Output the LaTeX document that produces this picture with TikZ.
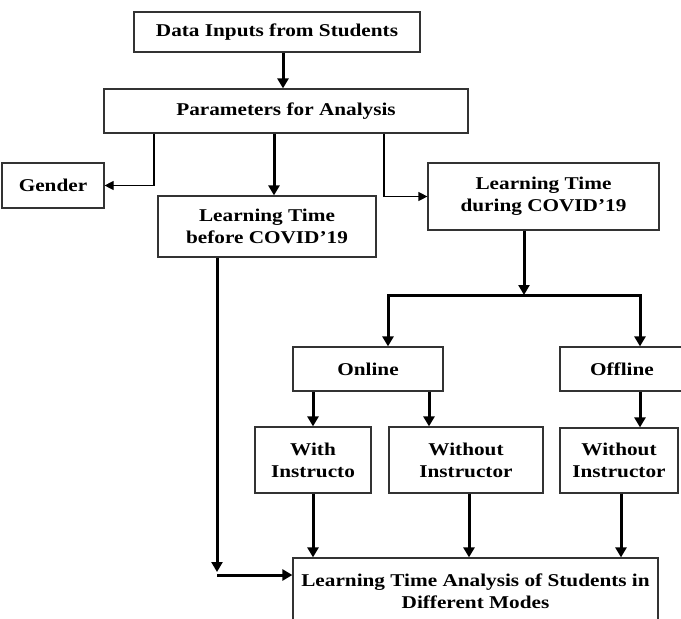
\documentclass[tikz,border=0pt]{standalone}
\usepackage{fontspec}
\setmainfont{Liberation Serif}[FakeStretch=1.18]
\usetikzlibrary{arrows.meta}

\begin{document}
\begin{tikzpicture}
[
    x=1pt, y=-1pt,
    box/.style={draw=black!80, line width=1.2pt, fill=white, inner sep=0pt,
        align=center, font=\fontsize{18}{22}\selectfont\bfseries},
    thinarrow/.style={line width=1.2pt, -{Triangle[length=9pt, width=9pt]}},
    thickarrow/.style={line width=3pt, -{Triangle[length=10pt, width=11pt]}},
]
\useasboundingbox (0,0) rectangle (681,619);
\clip (0,0) rectangle (681,619);

\node [box, minimum width=286pt, minimum height=40pt] (data) at (277,32)
{Data Inputs from Students};
\node [box, minimum width=364pt, minimum height=44pt] (param) at (286,111)
{Parameters for Analysis};
\node [box, minimum width=102pt, minimum height=45pt] (gender) at (53,185.5)
{Gender};
\node [box, minimum width=218pt, minimum height=61pt] (before) at (267,226.5)
{Learning Time\\before COVID'19};
\node [box, minimum width=231pt, minimum height=67pt] (during) at (543.5,196.5)
{Learning Time\\during COVID'19};
\node [box, minimum width=150pt, minimum height=44pt] (online) at (368,369)
{Online};
\node [box, minimum width=124pt, minimum height=44pt] (offline) at (622,369)
{Offline};
\node [box, minimum width=116pt, minimum height=66pt] (withins) at (313,460)
{With\\Instructo};
\node [box, minimum width=154pt, minimum height=66pt] (woonline) at (466,460)
{Without\\Instructor};
\node [box, minimum width=118pt, minimum height=65pt] (wooffline) at (619,460.5)
{Without\\Instructor};
\node [box, minimum width=365pt, minimum height=66pt] (result) at (475.5,591)
{Learning Time Analysis of Students in\\Different Modes};

\coordinate (split) at (524,295);
\coordinate (corner) at (217,575);

\draw [thickarrow] ([xshift=6pt]data.south) -- ([xshift=6pt]data.south |- param.north);
\draw [thinarrow] ([xshift=-132pt]param.south) |- (gender.east);
\draw [thickarrow] ([xshift=-12pt]param.south) -- ([xshift=-12pt]param.south |- before.north);
\draw [thinarrow] ([xshift=98pt]param.south) |- (during.west);
\draw [thickarrow] ([xshift=-19.5pt]during.south) -- (split);
\draw [thickarrow] (split) -| ([xshift=20pt]online.north);
\draw [thickarrow] (split) -| ([xshift=18pt]offline.north);
\draw [thickarrow] ([xshift=-55pt]online.south) -- (withins.north);
\draw [thickarrow] ([xshift=61pt]online.south) -- ([xshift=61pt]online.south |- woonline.north);
\draw [thickarrow] ([xshift=18pt]offline.south) -- ([xshift=18pt]offline.south |- wooffline.north);
\draw [thickarrow] (withins.south) -- (withins.south |- result.north);
\draw [thickarrow] ([xshift=3pt]woonline.south) -- ([xshift=3pt]woonline.south |- result.north);
\draw [thickarrow] ([xshift=2pt]wooffline.south) -- ([xshift=2pt]wooffline.south |- result.north);
\draw [thickarrow] ([xshift=-50pt]before.south) -- ([yshift=3pt]corner);
\draw [thickarrow] (corner) -- (corner -| result.west);
\end{tikzpicture}
\end{document}
